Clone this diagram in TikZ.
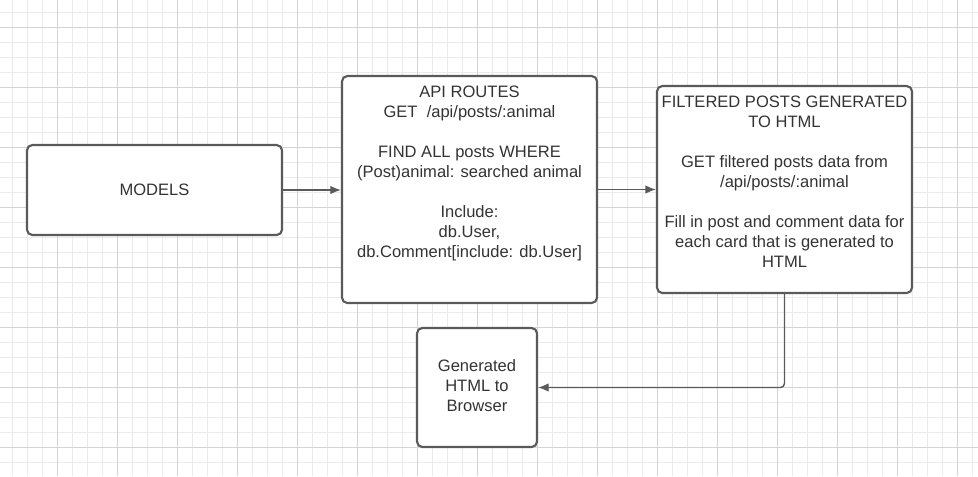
\documentclass[tikz,border=0pt]{standalone}
\usepackage{fontspec}
\setmainfont{Liberation Sans}
\usepackage{tikz}
\usetikzlibrary{arrows.meta}
\usetikzlibrary{positioning}
\definecolor{edge}{HTML}{5A5A5A}
\definecolor{ink}{HTML}{333333}
\definecolor{gridlo}{HTML}{EBEBEB}
\definecolor{gridhi}{HTML}{D4D4D4}

\begin{document}
\begin{tikzpicture}[x=.75pt,y=-.75pt,join=round,
  box/.style={draw=edge,line width=1.6pt,fill=white,rounded corners=4pt,inner sep=0pt},
  txt/.style={text=ink,align=center,inner sep=0pt,font=\fontsize{12.4}{15}\selectfont},
  conn/.style={draw=edge,line width=1.1pt,-{Latex[length=8pt,width=6.5pt]}}]
\useasboundingbox (0,0) rectangle (978,476);
\fill[white] (0,0) rectangle (978,476);
\foreach \i in {0,...,64} \draw[gridlo,line width=.75pt] (12+15*\i,0)--(12+15*\i,476);
\foreach \i in {0,...,30} \draw[gridlo,line width=.75pt] (0,12+15*\i)--(978,12+15*\i);
\foreach \i in {0,...,15} \draw[gridhi,line width=.75pt] (57+60*\i,0)--(57+60*\i,476);
\foreach \i in {0,...,7} \draw[gridhi,line width=.75pt] (0,27+60*\i)--(978,27+60*\i);

\node[box,txt,minimum width=191.25pt,minimum height=67.5pt] (models) at (154.5,190) {MODELS};
\node[box,minimum width=191.25pt,minimum height=170.25pt] (api) at (469.5,189.5) {};
\node[box,minimum width=191.25pt,minimum height=155.25pt] (filtered) at (784.5,189.5) {};
\node[box,minimum width=90pt,minimum height=89.25pt] (browser) at (477,387.5) {};
\node[txt] (browsertext) at (477,385.5) {Generated\\HTML to\\Browser};

\node[txt,below=8.25pt of api.north] (apitext) {API ROUTES\\GET\ \ /api/posts/:animal\\[15pt]FIND ALL posts WHERE\\(Post)animal: searched animal\\[15pt]Include:\\db.User,\\db.Comment[include: db.User]};
\node[txt,below=8.25pt of filtered.north] (filteredtext) {FILTERED POSTS GENERATED\\TO HTML\\[15pt]GET filtered posts data from\\/api/posts/:animal\\[15pt]Fill in post and comment data for\\each card that is generated to\\HTML};

\draw[conn] (models.east) -- (models.east -| api.west);
\draw[conn] (api.east) -- (filtered.west);
\draw[conn,rounded corners=3pt] (filtered.south) |- (browser.east);
\end{tikzpicture}
\end{document}
